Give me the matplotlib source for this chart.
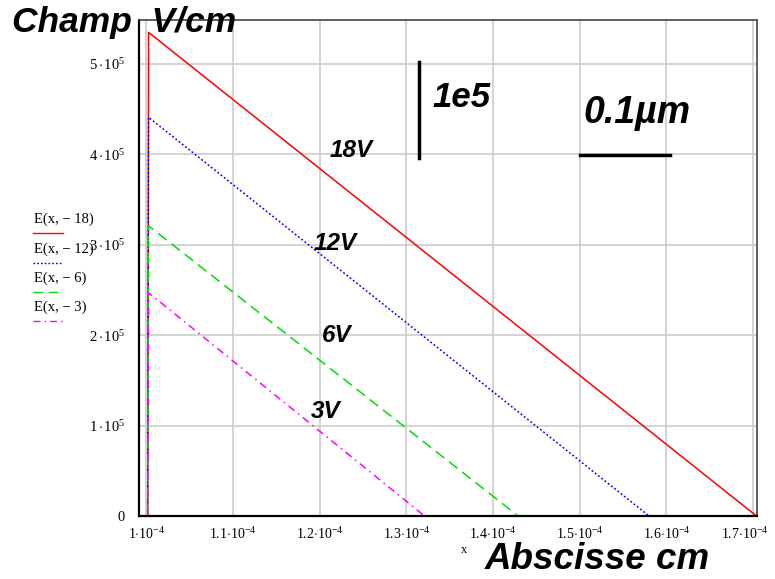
import matplotlib
matplotlib.use('Agg')
import matplotlib.pyplot as plt
import matplotlib.transforms as mtransforms
from matplotlib.lines import Line2D

plt.rcParams['mathtext.fontset'] = 'custom'
plt.rcParams['mathtext.rm'] = 'Liberation Serif'
plt.rcParams['mathtext.it'] = 'Liberation Serif:italic'

# Champ electrique E(x, V) : montee quasi verticale puis decroissance lineaire
voltages = [-18, -12, -6, -3]
x_start = [1.0015e-4, 1.0015e-4, 1.0015e-4, 1.0015e-4]
x_peak = [1.0025e-4, 1.0025e-4, 1.0025e-4, 1.0025e-4]
e_peak = [5.35e5, 4.41e5, 3.21e5, 2.47e5]
x_end = [1.704e-4, 1.580e-4, 1.429e-4, 1.321e-4]
labels_v = ['18V', '12V', '6V', '3V']
label_pos = [(1.211e-4, 3.97e5), (1.193e-4, 2.94e5), (1.203e-4, 1.92e5), (1.190e-4, 1.08e5)]

colors = ['#ff0000', '#0000ff', '#00dd00', '#ff00ff']
dashes = [None, (1.2, 1.5), (7, 4), (5, 3, 1, 3)]

x_ticks = [1.0e-4, 1.1e-4, 1.2e-4, 1.3e-4, 1.4e-4, 1.5e-4, 1.6e-4, 1.7e-4]
x_ticklabels = [r'$1{\cdot}10^{-4}$', r'$1.1{\cdot}10^{-4}$', r'$1.2{\cdot}10^{-4}$',
                r'$1.3{\cdot}10^{-4}$', r'$1.4{\cdot}10^{-4}$', r'$1.5{\cdot}10^{-4}$',
                r'$1.6{\cdot}10^{-4}$', r'$1.7{\cdot}10^{-4}$']
y_ticks = [0, 1e5, 2e5, 3e5, 4e5, 5e5]
y_ticklabels = ['0', r'$1\,{\cdot}\,10^{5}$', r'$2\,{\cdot}\,10^{5}$', r'$3\,{\cdot}\,10^{5}$',
                r'$4\,{\cdot}\,10^{5}$', r'$5\,{\cdot}\,10^{5}$']

fig = plt.figure(figsize=(7.75, 5.79), dpi=100)
ax = fig.add_axes([0.1794, 0.1088, 0.7974, 0.8567])

for i in range(len(voltages)):
    xs = [x_start[i], x_peak[i], x_end[i]]
    ys = [0, e_peak[i], 0]
    line, = ax.plot(xs, ys, color=colors[i], lw=1.1)
    if dashes[i] is not None:
        line.set_dashes(dashes[i])
    ax.text(label_pos[i][0], label_pos[i][1], labels_v[i], fontsize=17.5,
            fontweight='bold', style='italic', family='Liberation Sans')

ax.set_xlim(0.9915e-4, 1.7046e-4)
ax.set_ylim(0, 5.487e5)
ax.set_xticks(x_ticks)
ax.set_xticklabels(x_ticklabels, family='Liberation Serif', fontsize=10)
ax.set_yticks(y_ticks)
ax.set_yticklabels(y_ticklabels, family='Liberation Serif', fontsize=10.5)
ax.tick_params(axis='x', length=0, pad=7)
ax.tick_params(axis='y', length=0, pad=10)
ax.grid(True, color='#cccccc', lw=1.2)
ax.set_axisbelow(True)
for side in ['left', 'bottom']:
    ax.spines[side].set_linewidth(1.6)
    ax.spines[side].set_color('black')
for side in ['top', 'right']:
    ax.spines[side].set_linewidth(1.2)
    ax.spines[side].set_color('#444444')

# le dernier label est decale a gauche pour rester dans l'image
last = ax.get_xticklabels()[-1]
last.set_transform(last.get_transform() +
                   mtransforms.ScaledTranslation(-6 / 72, 0, fig.dpi_scale_trans))

# barres d'echelle
ax.plot([1.314e-4, 1.314e-4], [3.96e5, 5.02e5], color='black', lw=2.5)
ax.text(1.330e-4, 4.52e5, '1e5', fontsize=25, fontweight='bold', style='italic',
        family='Liberation Sans')
ax.plot([1.50e-4, 1.604e-4], [3.99e5, 3.99e5], color='black', lw=2.5)
ax.text(1.504e-4, 4.35e5, '0.1\u00b5m', fontsize=27, fontweight='bold', style='italic',
        family='Liberation Sans')

# titres
fig.text(0.0155, 0.945, 'Champ  V/cm', fontsize=25.5, fontweight='bold', style='italic',
         family='Liberation Sans')
fig.text(0.626, 0.017, 'Abscisse cm', fontsize=26.5, fontweight='bold', style='italic',
         family='Liberation Sans')
fig.text(0.595, 0.045, 'x', fontsize=9, family='Liberation Serif')

# legende a gauche (style Mathcad)
leg_y = [0.615, 0.563, 0.513, 0.463]
for i in range(len(voltages)):
    fig.text(0.044, leg_y[i], 'E(x, \u2212 %d)' % abs(voltages[i]), fontsize=10.5,
             family='Liberation Serif')
    ln = Line2D([0.042, 0.081], [leg_y[i] - 0.018, leg_y[i] - 0.018],
                transform=fig.transFigure, color=colors[i], lw=1.0)
    if dashes[i] is not None:
        ln.set_dashes(dashes[i])
    fig.add_artist(ln)

fig.savefig('out.png', dpi=100)
